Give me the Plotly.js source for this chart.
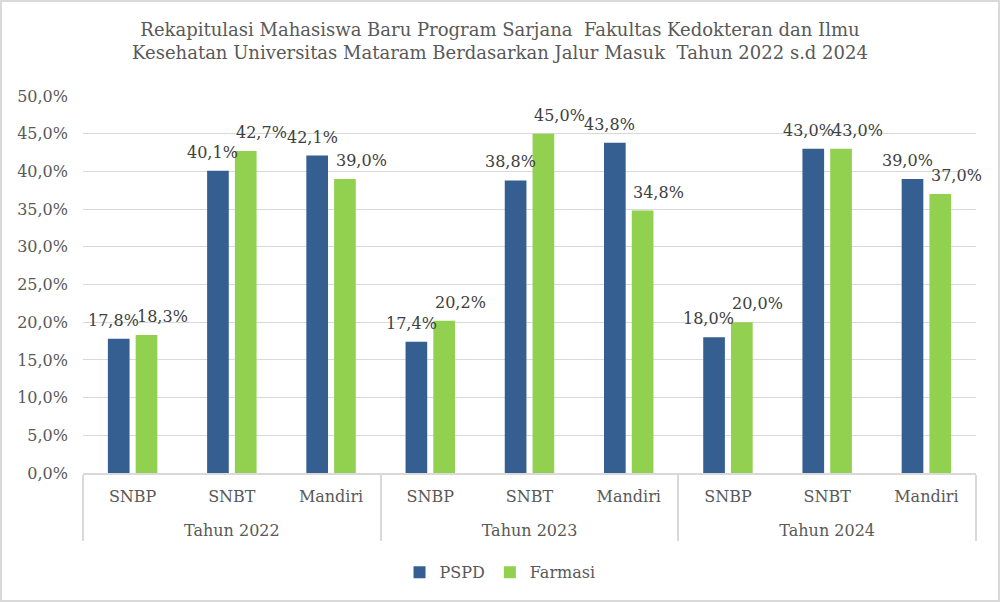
<!DOCTYPE html>
<html>
<head>
<meta charset="utf-8">
<script src="https://cdn.plot.ly/plotly-3.0.1.min.js"></script>
<style>
  body { margin: 0; background: #ffffff; }
  #grafik { width: 1000px; height: 602px; box-sizing: border-box; border: 2px solid #d9d9d9; }
</style>
</head>
<body>
<div id="grafik"></div>
<script>
/* =========================================
   DATA MAHASISWA BARU FKIK UNRAM
========================================= */

let tahun = ["Tahun 2022", "Tahun 2022", "Tahun 2022",
             "Tahun 2023", "Tahun 2023", "Tahun 2023",
             "Tahun 2024", "Tahun 2024", "Tahun 2024"];
let jalur = ["SNBP", "SNBT", "Mandiri",
             "SNBP", "SNBT", "Mandiri",
             "SNBP", "SNBT", "Mandiri"];
let pspd = [17.8, 40.1, 42.1, 17.4, 38.8, 43.8, 18.0, 43.0, 39.0];
let farmasi = [18.3, 42.7, 39.0, 20.2, 45.0, 34.8, 20.0, 43.0, 37.0];

function label(v){
    return v.toFixed(1).replace(".", ",") + "%";
}

let fontUtama = "DejaVu Serif, serif";

// baris tahun diberi jarak satu baris dari baris jalur
let tahunLabel = tahun.map(t => "<br>" + t);

let trace1 = {
    type: "bar",
    x: [tahunLabel, jalur],
    y: pspd,
    name: "PSPD",
    marker: { color: "#355e91" }
};

let trace2 = {
    type: "bar",
    x: [tahunLabel, jalur],
    y: farmasi,
    name: "Farmasi",
    marker: { color: "#92d050" }
};

// label data ala Excel: PSPD sedikit ke kiri, Farmasi ke kanan
let annotations = [];
pspd.forEach((v, i) => {
    annotations.push({
        x: i, y: v, xref: "x", yref: "y",
        text: label(v), showarrow: false,
        xanchor: "center", yanchor: "bottom",
        xshift: -19, yshift: 7,
        font: { family: fontUtama, size: 16, color: "#404040" }
    });
});
farmasi.forEach((v, i) => {
    annotations.push({
        x: i, y: v, xref: "x", yref: "y",
        text: label(v), showarrow: false,
        xanchor: "center", yanchor: "bottom",
        xshift: 30, yshift: 7,
        font: { family: fontUtama, size: 16, color: "#404040" }
    });
});

let layout = {

    width: 996,
    height: 598,
    font: { family: fontUtama, color: "#595959", size: 16 },

    title: {
        text: "Rekapitulasi Mahasiswa Baru Program Sarjana  Fakultas Kedokteran dan Ilmu<br>Kesehatan Universitas Mataram Berdasarkan Jalur Masuk  Tahun 2022 s.d 2024",
        font: { family: fontUtama, size: 18, color: "#595959" },
        x: 0.5,
        xanchor: "center",
        y: 0.943,
        yanchor: "middle"
    },

    margin: { t: 94, l: 81, r: 22, b: 126 },

    bargap: 0.44,
    bargroupgap: 0.22,

    annotations: annotations,

    showlegend: true,
    legend: {
        orientation: "h",
        x: 0.467,
        xanchor: "center",
        y: -0.26,
        yanchor: "middle",
        itemwidth: 30,
        font: { family: fontUtama, size: 16, color: "#595959" }
    },

    xaxis: {
        type: "multicategory",
        range: [-0.5, 8.5],
        showline: true,
        linecolor: "#d9d9d9",
        linewidth: 2,
        showdividers: true,
        dividercolor: "#d9d9d9",
        dividerwidth: 2,
        ticklabelstandoff: 8,
        tickfont: { family: fontUtama, size: 16, color: "#595959" }
    },

    yaxis: {
        range: [0, 50],
        dtick: 5,
        tickformat: ".1f",
        ticksuffix: "%",
        showgrid: true,
        gridcolor: "#d9d9d9",
        gridwidth: 1,
        zeroline: false,
        ticklabelstandoff: 14,
        tickfont: { family: fontUtama, size: 16, color: "#595959" }
    },

    separators: ",.",
    plot_bgcolor: "#ffffff",
    paper_bgcolor: "#ffffff"
};

Plotly.newPlot("grafik", [trace1, trace2], layout, { displayModeBar: false });
</script>
</body>
</html>
